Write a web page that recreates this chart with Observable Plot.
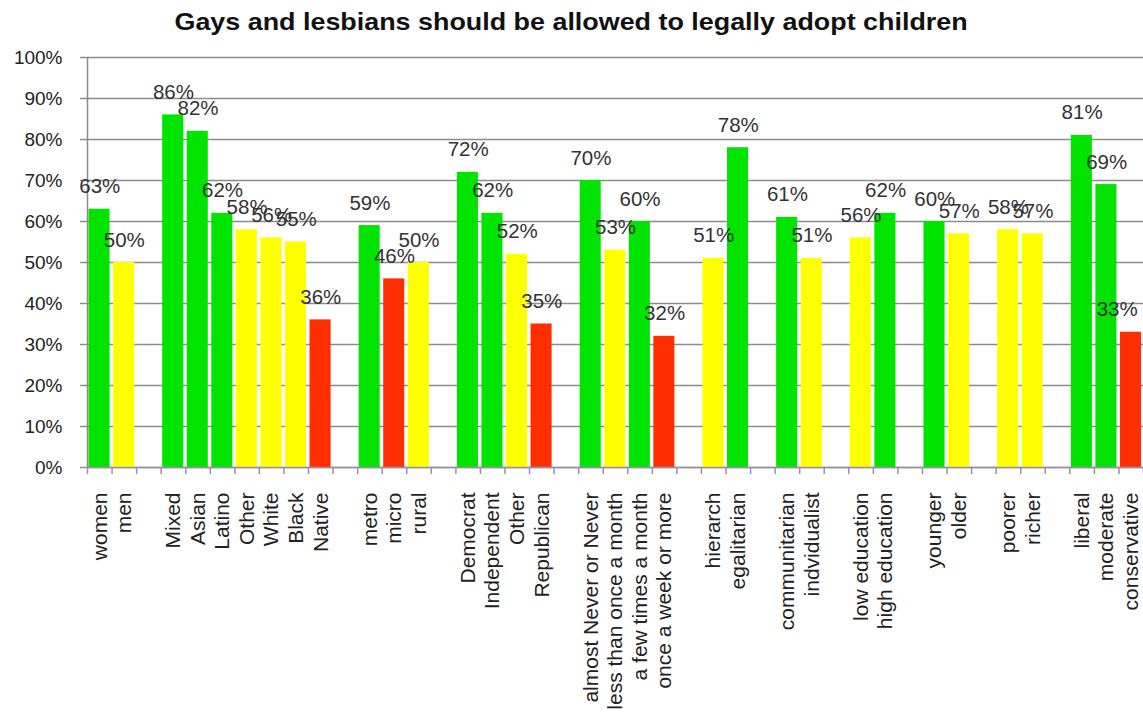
<!DOCTYPE html>
<html><head><meta charset="utf-8">
<script src="https://cdn.jsdelivr.net/npm/d3@7"></script>
<script src="https://cdn.jsdelivr.net/npm/@observablehq/plot@0.6"></script>
<style>
body{margin:0;background:#fff;font-family:"Liberation Sans",Arial,sans-serif;}
#title{height:44px;line-height:44px;text-align:center;font-weight:bold;font-size:24px;color:#111;}
#title span{display:inline-block;transform:scaleX(1.12);transform-origin:center;}
</style></head><body>
<div id="title"><span>Gays and lesbians should be allowed to legally adopt children</span></div>
<div id="chart"></div>
<script>
// categories ("" = spacer slot between groups)
const categories = [
  "women","men","",
  "Mixed","Asian","Latino","Other","White","Black","Native","",
  "metro","micro","rural","",
  "Democrat","Independent","Other","Republican","",
  "almost Never or Never","less than once a month","a few times a month","once a week or more","",
  "hierarch","egalitarian","",
  "communitarian","indvidualist","",
  "low education","high education","",
  "younger","older","",
  "poorer","richer","",
  "liberal","moderate","conservative"
];
// percent agreeing
const values = [
  63,50,null,
  86,82,62,58,56,55,36,null,
  59,46,50,null,
  72,62,52,35,null,
  70,53,60,32,null,
  51,78,null,
  61,51,null,
  56,62,null,
  60,57,null,
  58,57,null,
  81,69,33
];
// bar colour class
const tones = [
  "high","mid",null,
  "high","high","high","mid","mid","mid","low",null,
  "high","low","mid",null,
  "high","high","mid","low",null,
  "high","mid","high","low",null,
  "mid","high",null,
  "high","mid",null,
  "mid","high",null,
  "high","mid",null,
  "mid","mid",null,
  "high","high","low"
];
const yTicks = [0,10,20,30,40,50,60,70,80,90,100];
const toneDomain = ["high","mid","low"];
const toneRange = ["#00e400","#ffff00","#ff2e00"];

const data = categories.map((label, i) => ({i, label, value: values[i], tone: tones[i]}))
  .filter(d => d.value != null);
const n = categories.length;

const chart = Plot.plot({
  width: 1143, height: 670,
  marginTop: 13, marginBottom: 247, marginLeft: 87, marginRight: 0,
  x: {domain: [0, n], axis: null, label: null},
  y: {domain: [0, 100], axis: null, label: null},
  color: {domain: toneDomain, range: toneRange},
  style: {fontFamily: '"Liberation Sans", Arial, sans-serif', fontSize: "19px", color: "#222", background: "#fff"},
  marks: [
    Plot.gridY(yTicks, {stroke: "#8c8c8c", strokeOpacity: 1, strokeWidth: 1.5}),
    Plot.axisY(yTicks, {label: null, tickFormat: d => d + "%", tickSize: 7, tickPadding: 18, stroke: "#8c8c8c", strokeWidth: 1.5, fontSize: 19}),
    Plot.ruleX([0], {stroke: "#8c8c8c", strokeWidth: 1.5}),
    Plot.rectY(data, {x1: "i", x2: d => d.i + 1, y: "value", fill: "tone", insetLeft: 1.5, insetRight: 2}),
    Plot.ruleY([0], {stroke: "#9a90a6", strokeWidth: 1.5}),
    Plot.axisX(d3.range(0, n + 1), {label: null, tickFormat: () => "", tickSize: 7, stroke: "#9a90a6", strokeWidth: 1.5}),
    Plot.axisX(categories.map((c, i) => i + 0.5), {label: null, tickFormat: v => categories[Math.floor(v)], tickSize: 0, tickPadding: 25, tickRotate: -90, fontSize: 21}),
    Plot.text(data, {filter: d => d.i !== n - 1, x: d => d.i + 0.5, y: "value", text: d => d.value + "%", dy: -16, lineAnchor: "bottom", fontSize: 20.5, fill: "#333"}),
    Plot.text(data, {filter: d => d.i === n - 1, x: d => d.i + 0.5, y: "value", text: d => d.value + "%", dx: -14, dy: -16, lineAnchor: "bottom", fontSize: 20.5, fill: "#333"})
  ]
});
document.getElementById("chart").appendChild(chart);
</script>
</body></html>
